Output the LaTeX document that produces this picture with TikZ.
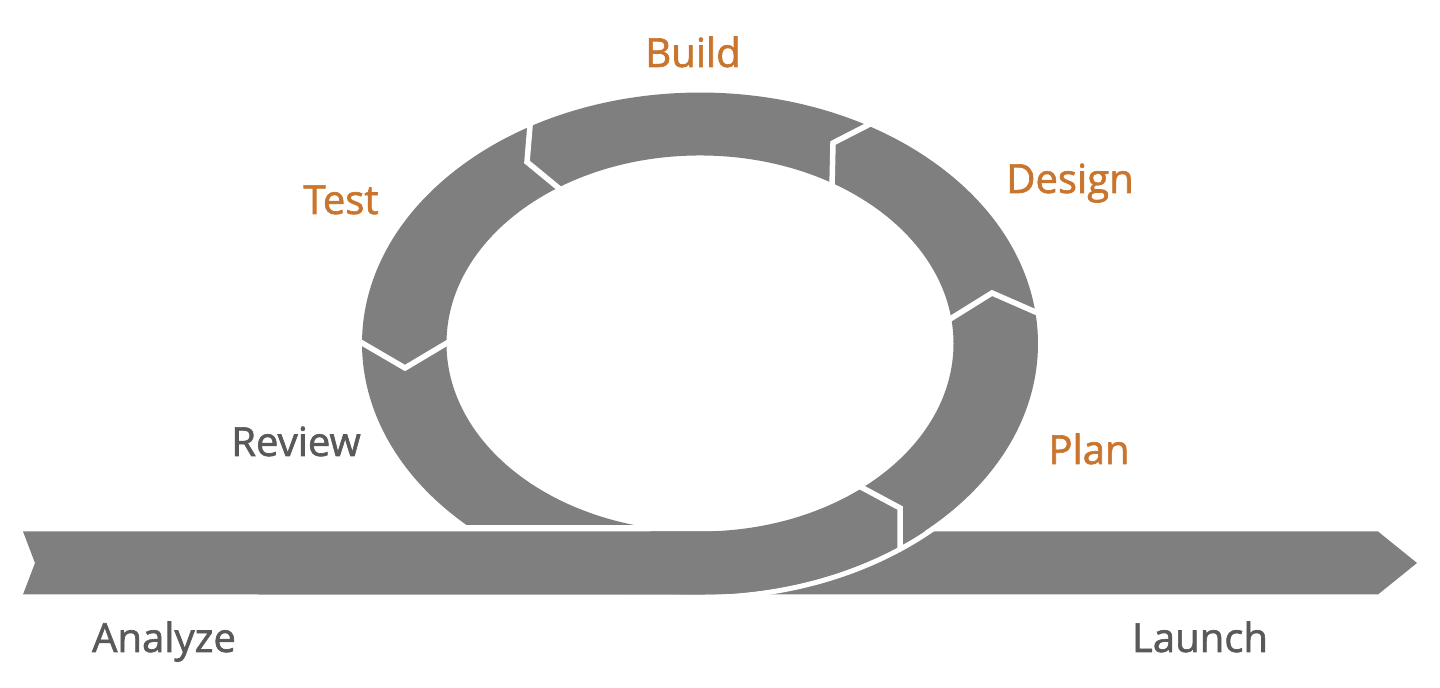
\documentclass[tikz,border=0pt]{standalone}
\usepackage{fontspec}
\setmainfont{Open Sans}
\newfontfamily\lblfont{Open Sans}[FakeBold=1.6]
\definecolor{bandG}{RGB}{127,127,127}
\definecolor{txtO}{RGB}{202,117,45}
\definecolor{txtG}{RGB}{89,89,89}

\begin{document}
\begin{tikzpicture}[line join=miter,
  cut/.style={white, line width=0.055cm},
  lblO/.style={text=txtO, anchor=base, inner sep=0pt, font=\lblfont\fontsize{11.4}{14}\selectfont},
  lblG/.style={lblO, text=txtG}]
\useasboundingbox (0,0) rectangle (14.4,6.88);
% 右侧箭头 Launch
\fill[bandG] (6.5,1.565) -- (13.78,1.565) -- (14.17,1.25) -- (13.78,0.935) -- (6.5,0.935) -- cycle;
% 环外侧的缝
\draw[white, line width=0.05cm] (7.00,3.445) ellipse (3.41 and 2.54);
% 主带：Analyze 进入环
\fill[bandG] (0.23,1.565) -- (7.00,1.565)
  arc[start angle=-90, end angle=254.9, x radius=2.535, y radius=1.88]
  -- (4.665,1.63)
  arc[start angle=226.3, end angle=-90, x radius=3.38, y radius=2.51]
  -- (0.23,0.935) -- (0.35,1.25) -- cycle;
% 分段的折线缝
\draw[cut] (3.57,3.48) -- (4.05,3.20) -- (4.52,3.48);
\draw[cut] (5.305,5.68) -- (5.27,5.26) -- (5.61,4.98);
\draw[cut] (8.72,5.65) -- (8.33,5.45) -- (8.32,5.01);
\draw[cut] (10.40,3.74) -- (9.92,3.95) -- (9.47,3.67);
\draw[cut] (8.59,2.02) -- (9.00,1.80) -- (9.00,1.38);
% 标签
\node[lblO] (build) at (6.93,6.21) {Build};
\node[lblO] (design) at (10.70,4.95) {Design};
\node[lblO] (test) at (3.41,4.74) {Test};
\node[lblO] (plan) at (10.89,2.24) {Plan};
\node[lblG] (review) at (2.96,2.32) {Review};
\node[lblG] (analyze) at (1.64,0.36) {Analyze};
\node[lblG] (launch) at (12.00,0.36) {Launch};
\end{tikzpicture}
\end{document}
